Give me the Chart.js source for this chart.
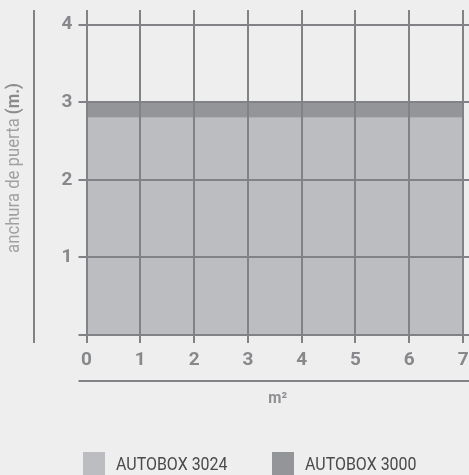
<!DOCTYPE html>
<html>
<head>
<meta charset="utf-8">
<script src="https://cdn.jsdelivr.net/npm/chart.js@4.4.1/dist/chart.umd.min.js"></script>
<style>
  html, body { margin: 0; padding: 0; background: #eeeeee; }
  #wrap { width: 469px; height: 475px; position: relative; }
</style>
</head>
<body>
<div id="wrap"><canvas id="c" width="469" height="475"></canvas></div>
<script>
// ---- data ----
const xValues = [0, 1, 2, 3, 4, 5, 6, 7];
const autobox3024 = [2.8, 2.8, 2.8, 2.8, 2.8, 2.8, 2.8, 2.8];
const autobox3000 = [3, 3, 3, 3, 3, 3, 3, 3];
const seriesLabels = ['AUTOBOX 3024', 'AUTOBOX 3000'];
const xTickValues = [0, 1, 2, 3, 4, 5, 6, 7];
const yTickValues = [1, 2, 3, 4];
const yTitleRegular = 'anchura de puerta ';
const yTitleBold = '(m.)';
const xTitle = 'm²';

const FONT = "Roboto, 'DejaVu Sans Condensed', Arial, sans-serif";
const GRID = '#808285';
const COLORS = ['#bcbdc0', '#939598'];

const toPoints = (ys) => xValues.map((x, i) => ({ x: x, y: ys[i] }));

// draw condensed text (horizontal squeeze) along current transform
function condensedText(ctx, text, x, y, sx, align) {
  const w = ctx.measureText(text).width * sx;
  let start = x;
  if (align === 'center') start = x - w / 2;
  else if (align === 'right') start = x - w;
  ctx.save();
  ctx.translate(start, y);
  ctx.scale(sx, 1);
  ctx.textAlign = 'left';
  ctx.fillText(text, 0, 0);
  ctx.restore();
  return w;
}

const decor = {
  id: 'decor',
  afterDraw(chart) {
    const ctx = chart.ctx;
    const a = chart.chartArea;
    ctx.save();
    // left vertical rule
    ctx.strokeStyle = GRID;
    ctx.lineWidth = 2;
    ctx.beginPath();
    ctx.moveTo(34, a.top);
    ctx.lineTo(34, a.bottom + 8);
    ctx.stroke();
    // bottom horizontal rule
    ctx.beginPath();
    ctx.moveTo(a.left - 8, 381);
    ctx.lineTo(chart.width, 381);
    ctx.stroke();

    // y title (rotated, mixed weight)
    const SQT = 0.88;
    ctx.save();
    ctx.translate(14, 168);
    ctx.rotate(-Math.PI / 2);
    ctx.textBaseline = 'middle';
    ctx.font = "19px " + FONT;
    const w1 = ctx.measureText(yTitleRegular).width * SQT;
    ctx.font = "bold 19px " + FONT;
    const w2 = ctx.measureText(yTitleBold).width * SQT;
    const sx = -(w1 + w2) / 2;
    ctx.font = "19px " + FONT;
    ctx.fillStyle = '#a0a1a4';
    condensedText(ctx, yTitleRegular, sx, 0, SQT, 'left');
    ctx.font = "bold 19px " + FONT;
    ctx.fillStyle = '#8a8b8e';
    condensedText(ctx, yTitleBold, sx + w1, 0, SQT, 'left');
    ctx.restore();

    // x title
    ctx.font = "bold 16px " + FONT;
    ctx.fillStyle = '#8e8f92';
    ctx.textBaseline = 'middle';
    condensedText(ctx, xTitle, (a.left + a.right) / 2, 399, 0.95, 'center');

    // legend
    const SQ = 0.84;
    const legendX = [83, 272];
    ctx.font = "19px " + FONT;
    ctx.textBaseline = 'middle';
    chart.data.datasets.forEach((ds, i) => {
      ctx.fillStyle = ds.backgroundColor;
      ctx.fillRect(legendX[i], 452, 22, 23);
      ctx.fillStyle = '#4a4a4c';
      condensedText(ctx, ds.label, legendX[i] + 33, 465, SQ, 'left');
    });
    ctx.restore();
  }
};

new Chart(document.getElementById('c'), {
  type: 'line',
  data: {
    datasets: [
      { label: seriesLabels[0], data: toPoints(autobox3024), backgroundColor: COLORS[0],
        borderWidth: 0, pointRadius: 0, fill: 'origin', tension: 0 },
      { label: seriesLabels[1], data: toPoints(autobox3000), backgroundColor: COLORS[1],
        borderWidth: 0, pointRadius: 0, fill: '-1', tension: 0 }
    ]
  },
  options: {
    responsive: false,
    animation: false,
    layout: { padding: { left: 0, right: 0, top: 10, bottom: 0 } },
    plugins: { legend: { display: false }, tooltip: { enabled: false } },
    scales: {
      x: {
        type: 'linear', min: 0, max: 7.11,
        afterFit(s) { s.height = 140; s.paddingLeft = 0; s.paddingRight = 0; },
        afterBuildTicks(s) { s.ticks = xTickValues.map(v => ({ value: v })); },
        grid: { color: GRID, lineWidth: 2, tickLength: 8, z: 1 },
        border: { display: false },
        ticks: { color: '#86888b', padding: 6, font: { family: FONT, size: 19, weight: 'bold' } }
      },
      y: {
        type: 'linear', min: 0, max: 4.19,
        afterFit(s) { s.width = 86.5; s.paddingTop = 0; s.paddingBottom = 0; },
        afterBuildTicks(s) { s.ticks = [0].concat(yTickValues).map(v => ({ value: v })); },
        grid: { color: GRID, lineWidth: 2, tickLength: 8, z: 1 },
        border: { display: false },
        ticks: {
          color: '#86888b', padding: 6, font: { family: FONT, size: 19, weight: 'bold' },
          callback: (v) => (v === 0 ? '' : String(v))
        }
      }
    }
  },
  plugins: [decor]
});
</script>
</body>
</html>
